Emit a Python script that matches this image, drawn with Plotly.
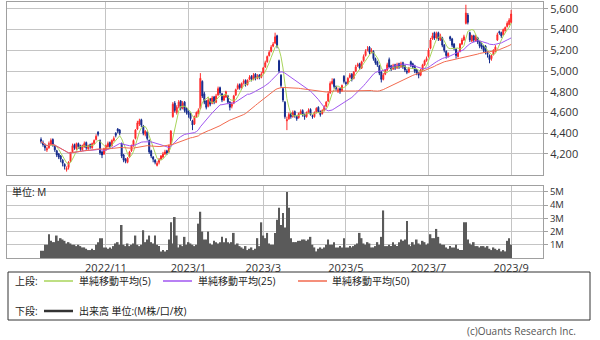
import pandas as pd
import plotly.graph_objects as go

# ---------------- data ----------------
holidays = ["2022-09-19", "2022-09-23", "2022-10-10", "2022-11-03", "2022-11-23",
            "2023-01-02", "2023-01-03", "2023-01-09", "2023-02-23", "2023-03-21",
            "2023-05-03", "2023-05-04", "2023-05-05", "2023-07-17", "2023-08-11"]

open_ = [4340,4310,4280,4240,4260,4290,4340,4280,4230,4200,
         4180,4140,4100,4050,4070,4130,4220,4290,4250,4300,
         4280,4240,4270,4310,4250,4290,4260,4300,4340,4410,
         4330,4220,4200,4240,4270,4310,4280,4330,4400,4440,
         4430,4300,4190,4150,4120,4170,4230,4280,4350,4440,
         4490,4530,4470,4390,4410,4330,4230,4170,4140,4090,
         4120,4150,4170,4200,4230,4220,4290,4560,4690,4600,
         4660,4710,4640,4700,4640,4610,4590,4520,4490,4560,
         4590,4640,4900,4780,4710,4660,4730,4690,4750,4700,
         4770,4840,4780,4720,4750,4760,4700,4660,4690,4770,
         4830,4870,4840,4890,4910,4870,4920,4950,4920,4970,
         4930,4960,4940,4980,5040,5090,5150,5190,5240,5270,
         5340,5100,4960,4830,4700,4520,4540,4590,4560,4610,
         4560,4550,4590,4620,4580,4560,4600,4630,4570,4560,
         4600,4650,4610,4590,4620,4660,4710,4790,4880,4920,
         4850,4800,4830,4810,4950,4890,4880,4940,4970,4930,
         5000,5050,5070,5030,5100,5150,5200,5230,5180,5190,
         5120,5090,5050,4990,4920,4970,5010,5110,5050,5020,
         5060,5030,5070,5040,5080,5050,5000,4990,5090,5070,
         5050,5010,4980,4960,5010,5060,5100,5140,5220,5310,
         5370,5320,5370,5300,5320,5250,5190,5140,5330,5310,
         5260,5210,5140,5190,5260,5300,5460,5540,5370,5290,
         5340,5290,5320,5280,5250,5240,5240,5180,5150,5120,
         5160,5190,5300,5380,5370,5350,5390,5430,5450,5470]

high = [4360,4330,4300,4270,4320,4350,4350,4290,4240,4210,
        4190,4150,4110,4080,4130,4220,4300,4300,4310,4310,
        4290,4290,4320,4320,4290,4300,4310,4340,4390,4420,
        4340,4230,4260,4290,4320,4320,4340,4370,4410,4450,
        4440,4310,4200,4160,4170,4230,4290,4340,4440,4520,
        4540,4540,4480,4430,4420,4340,4240,4180,4150,4130,
        4160,4190,4220,4240,4240,4290,4430,4700,4710,4670,
        4720,4720,4710,4710,4650,4620,4600,4530,4570,4610,
        4640,4980,4910,4800,4720,4740,4740,4760,4760,4780,
        4850,4850,4790,4770,4810,4770,4710,4700,4770,4830,
        4880,4880,4890,4920,4920,4920,4960,4960,4980,4980,
        4970,4970,4990,5040,5100,5150,5200,5250,5280,5370,
        5350,5110,4970,4840,4710,4560,4600,4600,4620,4620,
        4570,4600,4630,4630,4590,4610,4640,4640,4580,4610,
        4650,4660,4620,4630,4670,4710,4800,4900,4930,4930,
        4860,4840,4840,4870,4960,4900,4940,4980,4980,5000,
        5060,5080,5080,5100,5160,5210,5240,5240,5220,5200,
        5130,5100,5060,5000,4980,5020,5080,5130,5060,5070,
        5070,5080,5080,5090,5090,5060,5020,5040,5100,5080,
        5060,5020,4990,5020,5070,5110,5140,5220,5320,5370,
        5380,5380,5380,5360,5330,5260,5200,5180,5340,5320,
        5270,5220,5190,5270,5320,5350,5640,5560,5380,5350,
        5350,5350,5330,5290,5270,5250,5250,5190,5160,5160,
        5210,5250,5370,5390,5380,5410,5430,5480,5510,5590]

low = [4300,4270,4230,4220,4250,4280,4270,4220,4170,4150,
       4120,4080,4050,4030,4050,4120,4210,4240,4240,4250,
       4230,4230,4260,4240,4240,4250,4250,4290,4330,4370,
       4190,4160,4190,4230,4260,4250,4270,4320,4360,4400,
       4380,4160,4120,4110,4110,4160,4220,4270,4340,4430,
       4470,4460,4380,4370,4330,4200,4160,4120,4100,4080,
       4100,4140,4160,4190,4190,4210,4280,4550,4600,4580,
       4640,4620,4630,4600,4580,4550,4520,4430,4480,4550,
       4580,4630,4740,4680,4630,4650,4660,4680,4680,4690,
       4760,4770,4700,4710,4740,4680,4620,4640,4680,4760,
       4820,4820,4830,4870,4850,4860,4910,4900,4910,4910,
       4920,4920,4930,4970,5030,5080,5140,5180,5230,5260,
       5220,4980,4840,4700,4540,4430,4530,4540,4550,4550,
       4520,4540,4580,4560,4530,4550,4590,4570,4540,4550,
       4590,4600,4560,4580,4610,4650,4700,4780,4870,4830,
       4810,4790,4780,4800,4880,4860,4870,4930,4900,4920,
       4990,5040,5010,5020,5090,5140,5190,5160,5170,5100,
       5060,5040,4960,4890,4910,4960,5000,5030,5000,5010,
       5010,5020,5020,5030,5020,4990,4970,4980,5040,5020,
       4980,4960,4930,4950,5000,5050,5090,5130,5210,5300,
       5300,5310,5290,5290,5230,5180,5120,5130,5290,5230,
       5200,5120,5130,5180,5250,5290,5450,5450,5280,5280,
       5280,5280,5260,5220,5210,5180,5160,5130,5075,5100,
       5150,5180,5290,5350,5320,5340,5380,5420,5440,5460]

close = [4320,4290,4260,4250,4300,4330,4290,4240,4190,4170,
         4150,4110,4080,4060,4120,4210,4280,4260,4300,4270,
         4250,4280,4300,4260,4280,4270,4300,4330,4370,4390,
         4210,4190,4250,4280,4300,4270,4330,4350,4380,4420,
         4400,4180,4140,4130,4160,4220,4280,4330,4430,4500,
         4520,4480,4400,4420,4350,4220,4180,4150,4120,4110,
         4150,4180,4200,4220,4210,4280,4420,4680,4620,4650,
         4700,4640,4690,4620,4600,4580,4540,4480,4560,4600,
         4620,4930,4760,4700,4650,4720,4680,4740,4700,4760,
         4830,4790,4720,4760,4800,4700,4650,4680,4760,4820,
         4860,4840,4880,4900,4870,4910,4940,4920,4960,4930,
         4950,4940,4970,5030,5080,5140,5180,5230,5260,5330,
         5240,5000,4860,4720,4560,4530,4580,4560,4600,4570,
         4540,4590,4610,4580,4560,4600,4620,4580,4560,4600,
         4640,4610,4580,4620,4650,4700,4780,4880,4900,4850,
         4830,4820,4800,4860,4900,4880,4930,4960,4920,4990,
         5040,5060,5030,5090,5140,5190,5210,5180,5200,5120,
         5080,5060,4980,4920,4960,5010,5060,5040,5020,5050,
         5030,5060,5040,5070,5040,5010,4990,5030,5060,5040,
         5000,4980,4960,5010,5060,5100,5120,5200,5300,5340,
         5320,5360,5310,5340,5250,5200,5150,5170,5310,5250,
         5220,5150,5180,5260,5300,5330,5560,5470,5300,5340,
         5300,5330,5280,5240,5230,5200,5180,5160,5110,5150,
         5200,5230,5350,5370,5340,5400,5420,5460,5490,5550]

volume_m = [0.55,0.55,1.0,1.0,1.8,1.3,1.2,1.2,1.7,1.3,
            1.5,1.4,1.3,1.1,1.2,1.1,1.0,1.0,0.9,1.0,
            0.9,0.8,0.8,0.7,0.6,0.6,0.7,0.6,1.0,1.2,
            1.5,1.5,0.8,0.8,0.7,0.8,0.7,0.9,1.1,1.2,
            1.0,2.5,1.0,0.9,1.1,0.9,1.0,1.1,1.7,1.0,
            0.9,1.0,2.1,1.2,1.4,1.7,1.2,1.1,1.7,1.0,
            0.9,0.5,0.6,0.5,0.6,1.4,2.7,1.1,3.1,1.7,
            0.8,1.0,0.9,1.6,1.0,1.2,1.1,1.0,0.9,1.0,
            2.6,3.5,2.0,1.4,1.4,2.0,1.1,1.0,1.3,1.2,
            1.1,1.2,1.6,1.2,1.5,1.2,1.1,1.2,1.9,1.0,
            1.1,0.9,0.8,0.7,0.9,0.6,0.7,0.8,0.6,0.7,
            1.5,0.9,2.7,1.7,1.5,1.9,1.1,1.0,1.0,1.9,
            2.9,3.8,2.5,3.4,2.3,5.0,3.8,1.5,1.2,1.2,
            1.2,1.3,1.3,1.4,1.4,1.3,1.4,1.6,1.0,0.8,
            0.5,0.7,0.8,0.7,0.8,1.0,1.4,1.0,1.0,1.2,
            0.8,0.8,0.9,0.8,1.5,0.8,0.8,0.9,0.8,0.9,
            1.0,1.1,1.9,1.5,1.1,1.0,1.2,1.1,0.8,0.8,
            0.9,1.2,1.0,1.6,3.6,0.9,0.9,1.0,0.9,1.2,
            1.0,0.9,1.2,1.4,1.3,1.4,2.8,1.0,0.9,1.2,
            1.0,1.4,1.1,1.0,1.3,1.2,1.0,1.1,1.8,1.5,
            1.5,2.2,1.6,1.1,1.0,1.0,0.8,0.7,0.9,0.8,
            0.8,1.0,0.7,0.6,0.6,2.7,2.7,1.4,1.1,1.0,
            1.2,0.9,0.9,0.8,0.9,0.9,0.8,0.9,0.7,0.6,
            0.8,0.7,0.6,0.7,0.5,0.6,0.5,1.3,1.5,1.0]

price_ticks = [4200, 4400, 4600, 4800, 5000, 5200, 5400, 5600]
vol_ticks = [1, 2, 3, 4, 5]
vol_tick_labels = ["1M", "2M", "3M", "4M", "5M"]
label_months = [11, 1, 3, 5, 7, 9]
ma_periods = [5, 25, 50]
ma_colors = ["#a8d45a", "#a056f0", "#f26a4f"]
legend_top = ["単純移動平均(5)", "単純移動平均(25)", "単純移動平均(50)"]

# ---------------- derived ----------------
n = len(close)
dates = pd.bdate_range("2022-09-12", periods=n, freq="C", holidays=holidays)
idx = list(range(n))
tickvals, ticktext = [], []
for i, d in enumerate(dates):
    if i > 0 and dates[i - 1].month != d.month and d.month in label_months:
        tickvals.append(i)
        ticktext.append(f"{d.year}/{d.month}")

cs = pd.Series(close)

FONT = "Open Sans, Noto Sans CJK JP, sans-serif"
GRID = "#c4c4c4"
BORDER = "#a0a0a0"

fig = go.Figure()
fig.add_trace(go.Candlestick(
    x=idx, open=open_, high=high, low=low, close=close,
    increasing=dict(line=dict(color="#ff2a2a", width=1), fillcolor="#ff2a2a"),
    decreasing=dict(line=dict(color="#142a8c", width=1), fillcolor="#142a8c"),
    whiskerwidth=0, xaxis="x", yaxis="y", showlegend=False, hoverinfo="skip"))
for p, c in zip(ma_periods, ma_colors):
    fig.add_trace(go.Scatter(
        x=idx, y=cs.rolling(p, min_periods=1).mean(), mode="lines",
        line=dict(color=c, width=1), xaxis="x", yaxis="y",
        showlegend=False, hoverinfo="skip"))
fig.add_trace(go.Bar(
    x=idx, y=volume_m, marker=dict(color="#5a5a5a", line=dict(width=0)),
    xaxis="x2", yaxis="y2", showlegend=False, hoverinfo="skip"))

W, H = 600, 340
def X(px): return px / W
def Y(py): return 1 - py / H

xr = [-17.3, 255.2]
common_x = dict(range=xr, tickvals=tickvals, showgrid=True, gridcolor=GRID, gridwidth=1,
                zeroline=False, showline=True, mirror=True, linecolor=BORDER, linewidth=1,
                domain=[X(7), X(543)])
fig.update_layout(
    width=W, height=H, margin=dict(l=0, r=0, t=0, b=0),
    paper_bgcolor="white", plot_bgcolor="white",
    font=dict(family=FONT, size=11, color="#333333"),
    bargap=0.15,
    xaxis=dict(**common_x, ticktext=[""] * len(tickvals), showticklabels=False,
               rangeslider=dict(visible=False), anchor="y"),
    yaxis=dict(domain=[Y(175), Y(1.5)], range=[3997, 5671], side="right",
               tickvals=price_ticks, tickformat=",d", ticks="outside", ticklen=4,
               tickcolor=BORDER, showgrid=True, gridcolor=GRID, zeroline=False,
               showline=True, mirror=True, linecolor=BORDER, anchor="x",
               tickfont=dict(size=11, color="#333333")),
    xaxis2=dict(**common_x, ticktext=ticktext, showticklabels=True, ticks="",
                tickfont=dict(size=11, color="#333333"), anchor="y2"),
    yaxis2=dict(domain=[Y(258), Y(186)], range=[0, 5.45], side="right",
                tickvals=vol_ticks, ticktext=vol_tick_labels, ticks="outside", ticklen=4,
                tickcolor=BORDER, showgrid=True, gridcolor=GRID, zeroline=False,
                showline=True, mirror=True, linecolor=BORDER, anchor="x2",
                tickfont=dict(size=9.5, color="#333333")),
)

shapes = [dict(type="rect", xref="paper", yref="paper", x0=X(8), x1=X(590),
               y0=Y(320), y1=Y(272), line=dict(color="#333333", width=1))]
ann = []
def txt(px, py, s, size=10, color="#222222", anchor="left"):
    ann.append(dict(x=X(px), y=Y(py), xref="paper", yref="paper", text=s, showarrow=False,
                    xanchor=anchor, yanchor="middle", font=dict(size=size, color=color, family=FONT)))

txt(13, 281, "上段:")
line_x = [(44, 73), (163, 192), (298, 327)]
text_x = [77, 196, 330]
for (a, b), c, t, tx in zip(line_x, ma_colors, legend_top, text_x):
    shapes.append(dict(type="line", xref="paper", yref="paper", x0=X(a), x1=X(b),
                       y0=Y(281), y1=Y(281), line=dict(color=c, width=1.5)))
    txt(tx, 281, t)
txt(13, 311, "下段:")
shapes.append(dict(type="line", xref="paper", yref="paper", x0=X(44), x1=X(73),
                   y0=Y(311), y1=Y(311), line=dict(color="#333333", width=2.5)))
txt(77, 311, "出来高 単位:(M株/口/枚)")
txt(10, 192, "単位: M")
txt(578, 331, "(c)Ouants Research Inc.", color="#555555", anchor="right")

fig.update_layout(shapes=shapes, annotations=ann)
fig.write_html("out.html")
